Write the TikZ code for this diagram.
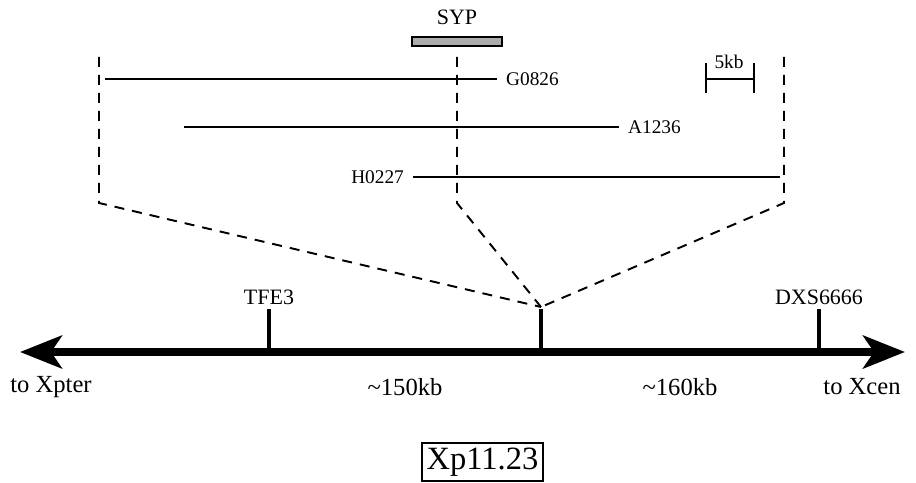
\documentclass[tikz,border=0pt]{standalone}
\usepackage{fontspec}
\setmainfont{Liberation Serif}
\usetikzlibrary{positioning,arrows.meta}

\begin{document}
\begin{tikzpicture}[
  x=0.02cm, y=-0.02cm,
  clone/.style={line width=1.1pt},
  dashline/.style={line width=1.1pt,dash pattern=on 0.2cm off 0.16cm},
  tickmark/.style={line width=2.2pt},
  lbl/.style={font=\fontsize{11}{13}\selectfont,inner xsep=5pt,inner ysep=1pt},
  locname/.style={font=\fontsize{12.5}{14}\selectfont,inner sep=1pt},
  dist/.style={font=\fontsize{14}{16}\selectfont,inner sep=1pt},
]
\useasboundingbox (0,0) rectangle (916,483);

%=================================================================== CLONES ===
% gene on top
\node[locname] (syp) at (457,17) {SYP};
\draw[fill=gray!65,line width=0.8pt] (412,37) rectangle (502,46);

\coordinate (g0826s) at (105,79);
\coordinate (a1236s) at (184,127);
\coordinate (h0227e) at (780,177);
\node[lbl,anchor=west] (g0826) at (497,79) {G0826};
\node[lbl,anchor=west] (a1236) at (619,127) {A1236};
\node[lbl,anchor=east] (h0227) at (413,177) {H0227};
\draw[clone] (g0826s) -- (g0826.west);
\draw[clone] (a1236s) -- (a1236.west);
\draw[clone] (h0227.east) -- (h0227e);

% scale bar
\coordinate (barL) at (706,79);
\coordinate (barR) at (754,79);
\draw[clone] (barL) -- (barR);
\draw[clone] ([yshift=-8]barL) -- ([yshift=9]barL);
\draw[clone] ([yshift=-8]barR) -- ([yshift=9]barR);
\node[lbl] (five) at (729,62) {5kb};

% zoom lines down to the locus
\coordinate (locus) at (541,307);
\draw[dashline] (99,57) -- (99,203) -- (locus);
\draw[dashline] (457,57) -- (457,203) -- (locus);
\draw[dashline] (784,57) -- (784,203) -- (locus);

%===================================================================== AXIS ===
\coordinate (xpterEnd) at (20,352);
\coordinate (xcenEnd) at (905,352);
\draw[line width=4pt,{Stealth[length=0.84cm,width=0.66cm,inset=0.22cm]}-{Stealth[length=0.84cm,width=0.66cm,inset=0.22cm]}]
  (xpterEnd) -- (xcenEnd);

\coordinate (tfeTop) at (269,309);
\coordinate (midTop) at (541,309);
\coordinate (dxsTop) at (819,309);
\draw[tickmark] (tfeTop) -- (269,352);
\draw[tickmark] (midTop) -- (541,352);
\draw[tickmark] (dxsTop) -- (819,352);
\node[locname,above=0.5mm of tfeTop] (tfe3) {TFE3};
\node[locname,above=0.5mm of dxsTop] (dxs) {DXS6666};

\node[dist] (xpter) at (51,387) {to Xpter};
\node[dist] (d150) at (405,387) {\textasciitilde150kb};
\node[dist] (d160) at (680,387) {\textasciitilde160kb};
\node[dist] (xcen) at (862,387) {to Xcen};

\node[draw,line width=1pt,font=\fontsize{18.5}{20}\selectfont,minimum width=2.42cm,minimum height=0.76cm,inner sep=0pt]
  (band) at (482.5,462) {Xp11.23};

\end{tikzpicture}
\end{document}
